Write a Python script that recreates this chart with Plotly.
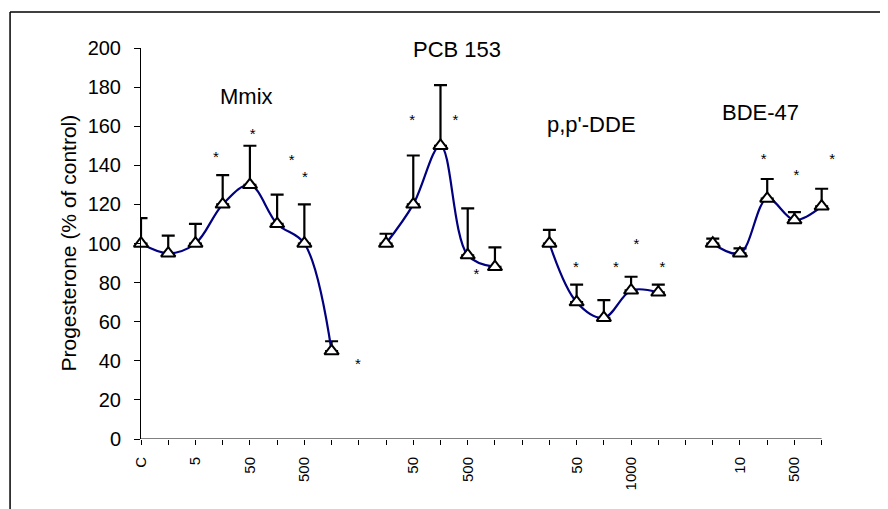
import plotly.graph_objects as go

# ---------------- data ----------------
categories = list(range(26))
tick_labels = ["C", "", "5", "", "50", "", "500", "", "", "", "50", "", "500", "",
               "", "", "50", "", "1000", "", "", "", "10", "", "500", ""]

mmix_x = [0, 1, 2, 3, 4, 5, 6, 7]
mmix_y = [100, 95, 100, 120, 130, 110, 100, 45]
mmix_err = [13, 9, 10, 15, 20, 15, 20, 5]

pcb_x = [9, 10, 11, 12, 13]
pcb_y = [100, 120, 150, 94, 88]
pcb_err = [5, 25, 31, 24, 10]

dde_x = [15, 16, 17, 18, 19]
dde_y = [100, 70, 62, 76, 75]
dde_err = [7, 9, 9, 7, 4]

bde_x = [21, 22, 23, 24, 25]
bde_y = [100, 95, 123, 112, 119]
bde_err = [2.5, 2.5, 10, 4, 9]

group_names = ["Mmix", "PCB 153", "p,p'-DDE", "BDE-47"]
group_label_x = [3.88, 11.6, 16.53, 22.76]
group_label_y = [175, 199, 161, 167]

star_x = [2.75, 4.10, 5.53, 6.02, 7.97,
          9.96, 11.55, 12.32,
          15.97, 17.44, 18.20, 19.15,
          22.87, 24.07, 25.39]
star_y = [143.6, 155.5, 141.9, 133.3, 37.7,
          162.3, 162.3, 83.9,
          87.3, 87.3, 99.3, 87.3,
          142.7, 134.5, 142.7]

y_title = "Progesterone (% of control)"

FONT = "Liberation Sans, Arial, sans-serif"
LINE_COLOR = "#000080"

# geometry (page body adds an 8px offset)
W, H = 880, 501
ML, MT, MB = 133, 40, 70
X_MAX = 25            # last category
X_VIEW = 25.6         # room for the asterisk right of the last point
PX_PER_CAT = 27.24
plot_w = PX_PER_CAT * X_VIEW
MR = W - ML - plot_w

fig = go.Figure()

for xs, ys, errs in [(mmix_x, mmix_y, mmix_err), (pcb_x, pcb_y, pcb_err),
                     (dde_x, dde_y, dde_err), (bde_x, bde_y, bde_err)]:
    fig.add_trace(go.Scatter(
        x=xs, y=ys, mode="lines+markers",
        line=dict(color=LINE_COLOR, width=2.2, shape="spline", smoothing=1),
        marker=dict(symbol="triangle-up", size=12.5, color="white",
                    line=dict(color="black", width=2)),
        error_y=dict(type="data", symmetric=False, array=errs,
                     arrayminus=[0] * len(errs), color="black",
                     thickness=2.2, width=6.5),
        cliponaxis=False, showlegend=False, hoverinfo="skip"))

fig.add_trace(go.Scatter(
    x=star_x, y=star_y, mode="text", text=["*"] * len(star_x),
    textposition="middle center", textfont=dict(family=FONT, size=15, color="black"),
    cliponaxis=False, showlegend=False, hoverinfo="skip"))

for name, gx, gy in zip(group_names, group_label_x, group_label_y):
    fig.add_annotation(x=gx, y=gy, xref="x", yref="y", text=name, showarrow=False,
                       xanchor="center", yanchor="middle",
                       font=dict(family=FONT, size=22, color="black"))

fig.add_annotation(x=-73 / plot_w, y=0.5, xref="paper", yref="paper", text=y_title,
                   textangle=-90, showarrow=False, xanchor="center", yanchor="middle",
                   font=dict(family=FONT, size=21, color="black"))

# x axis line only up to the last category
fig.add_shape(type="line", xref="x", yref="y", x0=0, x1=X_MAX, y0=0, y1=0,
              line=dict(color="black", width=1), layer="above")

# outer frame (partly cut off at right / bottom)
frame_x = -131 / plot_w
frame_y = 1 + 36 / 391
fig.add_shape(type="line", xref="paper", yref="paper", x0=frame_x, x1=frame_x,
              y0=frame_y, y1=-0.3, line=dict(color="black", width=1.5))
fig.add_shape(type="line", xref="paper", yref="paper", x0=frame_x, x1=1.3,
              y0=frame_y, y1=frame_y, line=dict(color="black", width=1.5))

fig.update_layout(
    width=W, height=H,
    margin=dict(l=ML, r=MR, t=MT, b=MB, pad=0),
    paper_bgcolor="white", plot_bgcolor="white",
    font=dict(family=FONT, color="black"),
    showlegend=False,
    xaxis=dict(range=[0, X_VIEW], tickmode="array", tickvals=categories, ticktext=tick_labels,
               tickangle=-90, ticks="outside", ticklen=5, tickcolor="black",
               showline=False, showgrid=False,
               zeroline=False, tickfont=dict(family=FONT, size=15, color="black"),
               ticklabelstandoff=6),
    yaxis=dict(range=[0, 200], tickmode="array", tickvals=list(range(0, 201, 20)),
               ticks="outside", ticklen=6, tickcolor="black",
               showline=True, linecolor="black", linewidth=1, showgrid=False,
               zeroline=False, tickfont=dict(family=FONT, size=20, color="black"),
               ticklabelstandoff=9),
    xaxis2=dict(overlaying="x", anchor="y", side="bottom", range=[0, X_VIEW],
                tickmode="array", tickvals=categories, ticks="inside", ticklen=5,
                tickcolor="black", showticklabels=False, showgrid=False,
                zeroline=False, showline=False),
    yaxis2=dict(overlaying="y", anchor="x", side="left", range=[0, 200],
                tickmode="array", tickvals=list(range(0, 201, 20)), ticks="inside",
                ticklen=6, tickcolor="black", showticklabels=False, showgrid=False,
                zeroline=False, showline=False),
)

fig.write_html("out.html")
